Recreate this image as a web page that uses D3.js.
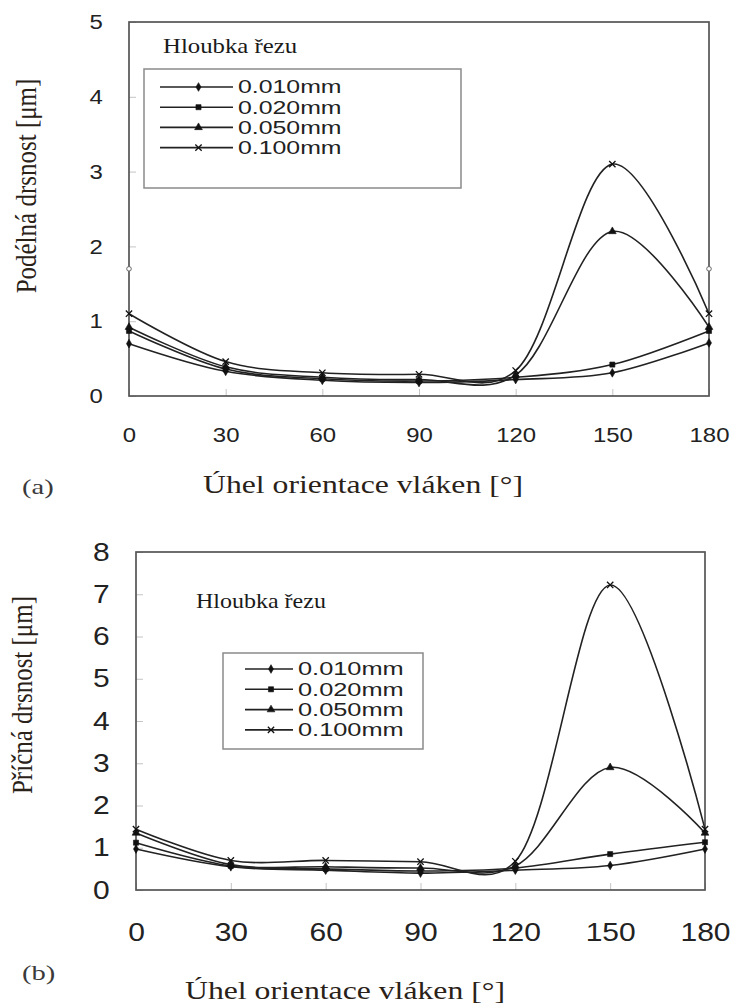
<!DOCTYPE html>
<html>
<head>
<meta charset="utf-8">
<script src="https://cdn.jsdelivr.net/npm/d3@7"></script>
<style>
 body { margin: 0; background: #fff; }
</style>
</head>
<body>
<script>
const width = 742;
const height = 1008;
const sans = "'Liberation Sans', Arial, sans-serif";
const serif = "'Liberation Serif', 'Times New Roman', serif";

// shared
const angles = [0, 30, 60, 90, 120, 150, 180];
const depths = ["0.010mm", "0.020mm", "0.050mm", "0.100mm"];
const legendTitle = "Hloubka řezu";
const xTitle = "Úhel orientace vláken [°]";

// (a) Podélná drsnost
const podelna010 = [0.70, 0.33, 0.21, 0.18, 0.22, 0.31, 0.71];
const podelna020 = [0.87, 0.36, 0.23, 0.20, 0.25, 0.42, 0.87];
const podelna050 = [0.92, 0.39, 0.25, 0.22, 0.28, 2.20, 0.92];
const podelna100 = [1.10, 0.46, 0.31, 0.29, 0.34, 3.10, 1.10];
const podelnaStray = [[0, 1.7], [180, 1.7]];
const yTicksA = [0, 1, 2, 3, 4, 5];

// (b) Příčná drsnost
const pricna010 = [0.97, 0.55, 0.47, 0.40, 0.47, 0.58, 0.97];
const pricna020 = [1.12, 0.57, 0.50, 0.45, 0.52, 0.85, 1.13];
const pricna050 = [1.35, 0.60, 0.55, 0.52, 0.57, 2.90, 1.35];
const pricna100 = [1.44, 0.70, 0.70, 0.67, 0.68, 7.22, 1.44];
const yTicksB = [0, 1, 2, 3, 4, 5, 6, 7, 8];

// x marker, d3 has no stroked cross in older builds
const symbolCross = {
 draw(ctx, size) {
  const r = Math.sqrt(size) / 2;
  ctx.moveTo(-r, -r); ctx.lineTo(r, r);
  ctx.moveTo(r, -r); ctx.lineTo(-r, r);
 }
};
const markers = [
 {type: d3.symbolDiamond, size: 22, fill: "#111"},
 {type: d3.symbolSquare, size: 26, fill: "#111"},
 {type: d3.symbolTriangle, size: 26, fill: "#111"},
 {type: symbolCross, size: 40, fill: "none"}
];

const svg = d3.select("body").append("svg")
 .attr("width", width)
 .attr("height", height);

function markerPath(i) {
 return d3.symbol().type(markers[i].type).size(markers[i].size)();
}

function drawMarker(g, i, px, py) {
 g.append("path")
  .attr("d", markerPath(i))
  .attr("transform", `translate(${px},${py})`)
  .attr("fill", markers[i].fill)
  .attr("stroke", "#111")
  .attr("stroke-width", markers[i].fill == "none" ? 1.3 : 0.6);
}

function drawPanel(cfg) {
 const x = d3.scaleLinear().domain([0, 180]).range([cfg.left, cfg.right]);
 const y = d3.scaleLinear().domain([0, cfg.ymax]).range([cfg.bottom, cfg.top]);
 const g = svg.append("g");

 // axes with small inner ticks
 const xa = g.append("g")
  .attr("transform", `translate(0,${cfg.bottom})`)
  .call(d3.axisBottom(x).tickValues(angles).tickSizeInner(-7).tickSizeOuter(0).tickPadding(cfg.xPad));
 const ya = g.append("g")
  .attr("transform", `translate(${cfg.left},0)`)
  .call(d3.axisLeft(y).tickValues(cfg.yTicks).tickFormat(d3.format("d")).tickSizeInner(-7).tickSizeOuter(0).tickPadding(cfg.yPad));
 [xa, ya].forEach(a => {
  a.select(".domain").remove();
  a.selectAll("line").attr("stroke", "#c4c4c4");
  a.selectAll("text")
   .attr("font-family", sans)
   .attr("font-size", cfg.tickFont)
   .attr("fill", "#222")
   .attr("transform", `scale(${cfg.sx},1)`);
 });

 // frame
 g.append("rect")
  .attr("x", cfg.left).attr("y", cfg.top)
  .attr("width", cfg.right - cfg.left).attr("height", cfg.bottom - cfg.top)
  .attr("fill", "none").attr("stroke", "#555").attr("stroke-width", 1.7);

 // smoothed lines, like the spreadsheet original
 const line = d3.line()
  .x((d, i) => x(angles[i]))
  .y(d => y(d))
  .curve(d3.curveCatmullRom.alpha(0.25));
 cfg.series.forEach(s => {
  g.append("path")
   .attr("d", line(s))
   .attr("fill", "none")
   .attr("stroke", "#222")
   .attr("stroke-width", 1.6);
 });
 cfg.series.forEach((s, k) => {
  s.forEach((v, i) => drawMarker(g, k, x(angles[i]), y(v)));
 });

 if (cfg.stray) {
  g.selectAll("circle.stray").data(cfg.stray).join("circle")
   .attr("cx", d => x(d[0])).attr("cy", d => y(d[1])).attr("r", 2.3)
   .attr("fill", "#fff").attr("stroke", "#666").attr("stroke-width", 1);
 }

 // legend
 const L = cfg.legend;
 g.append("text")
  .attr("transform", `translate(${L.titleX},${L.titleY}) scale(${L.titleSx},1)`)
  .attr("font-family", serif).attr("font-size", L.titleFont).attr("fill", "#1a1a1a")
  .text(legendTitle);
 g.append("rect")
  .attr("x", L.x).attr("y", L.y).attr("width", L.w).attr("height", L.h)
  .attr("fill", "#fff").attr("stroke", "#8a8a8a").attr("stroke-width", 1.5);
 depths.forEach((lab, k) => {
  const ry = L.rowY + k * L.rowH;
  g.append("line")
   .attr("x1", L.lineX1).attr("x2", L.lineX2).attr("y1", ry).attr("y2", ry)
   .attr("stroke", "#222").attr("stroke-width", 1.6);
  drawMarker(g, k, (L.lineX1 + L.lineX2) / 2 + 2, ry);
  g.append("text")
   .attr("transform", `translate(${L.textX},${ry}) scale(${L.textSx},1)`)
   .attr("dy", "0.36em")
   .attr("font-family", sans).attr("font-size", L.textFont).attr("fill", "#222")
   .text(lab);
 });

 // titles
 g.append("text")
  .attr("transform", `translate(${cfg.yTitleX},${cfg.yTitleY}) scale(1.15,1) rotate(-90)`)
  .attr("text-anchor", "middle").attr("dy", "0.35em")
  .attr("font-family", serif).attr("font-size", 25).attr("fill", "#2a2218")
  .text(cfg.yTitle);
 g.append("text")
  .attr("transform", `translate(${cfg.xTitleX},${cfg.xTitleY}) scale(1.22,1)`)
  .attr("text-anchor", "middle")
  .attr("font-family", serif).attr("font-size", 26).attr("fill", "#2a2218")
  .text(xTitle);
 g.append("text")
  .attr("transform", `translate(${cfg.tagX},${cfg.tagY}) scale(1.3,1)`)
  .attr("font-family", serif).attr("font-size", 22).attr("fill", "#3a3a3a")
  .text(cfg.tag);
}

drawPanel({
 left: 129, right: 709, top: 22, bottom: 396,
 ymax: 5, yTicks: yTicksA,
 series: [podelna010, podelna020, podelna050, podelna100],
 stray: podelnaStray,
 tickFont: 21, sx: 1.14, xPad: 31, yPad: 23,
 yTitle: "Podélná drsnost [μm]", yTitleX: 26, yTitleY: 186,
 xTitleX: 363, xTitleY: 493,
 tag: "(a)", tagX: 22, tagY: 494,
 legend: {
  titleX: 163, titleY: 53, titleFont: 21, titleSx: 1.18,
  x: 144, y: 69, w: 317, h: 119,
  lineX1: 160, lineX2: 233, textX: 238, textFont: 17.5, textSx: 1.42,
  rowY: 87, rowH: 20.2
 }
});

drawPanel({
 left: 136, right: 705, top: 552, bottom: 890,
 ymax: 8, yTicks: yTicksB,
 series: [pricna010, pricna020, pricna050, pricna100],
 tickFont: 25, sx: 1.2, xPad: 33, yPad: 22,
 yTitle: "Příčná drsnost [μm]", yTitleX: 22, yTitleY: 695,
 xTitleX: 345, xTitleY: 999,
 tag: "(b)", tagX: 22, tagY: 980,
 legend: {
  titleX: 196, titleY: 608, titleFont: 20, titleSx: 1.2,
  x: 223, y: 653, w: 200, h: 96,
  lineX1: 245, lineX2: 293, textX: 298, textFont: 17.5, textSx: 1.45,
  rowY: 669, rowH: 20.3
 }
});
</script>
</body>
</html>
